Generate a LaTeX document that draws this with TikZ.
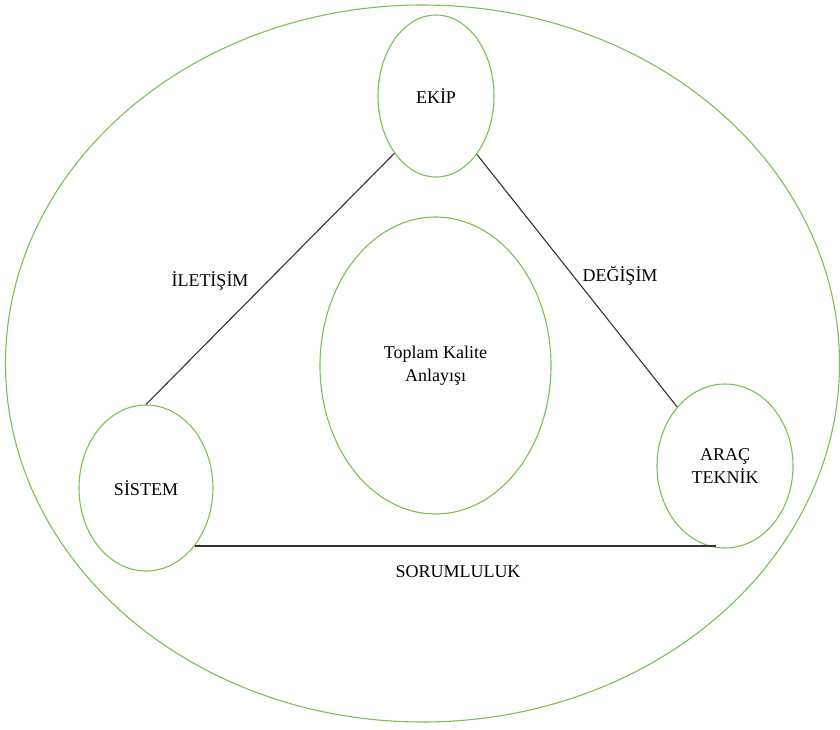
\documentclass[tikz,border=0pt]{standalone}
\usepackage{fontspec}
\setmainfont{Liberation Serif}
\usetikzlibrary{shapes.geometric,positioning}
\definecolor{ovalgreen}{RGB}{125,190,85}

\begin{document}
\begin{tikzpicture}[x=1pt,y=-1pt,
	oval/.style={draw=ovalgreen, line width=1.1pt, ellipse, inner sep=0pt, align=center, font=\fontsize{18}{23}\selectfont},
	link/.style={draw=black!80, line width=1.1pt},
	lbl/.style={font=\fontsize{18}{23}\selectfont, inner sep=0pt}]
	\useasboundingbox (0,0) rectangle (840,729);
	\node[oval, minimum width=834pt, minimum height=717pt] (outer) at (422.5,363.5) {};
	\node[oval, minimum width=116pt, minimum height=162pt] (ekip) at (436,96) {EKİP};
	\node[oval, minimum width=134pt, minimum height=166pt] (sistem) at (146,488) {SİSTEM};
	\node[oval, minimum width=136pt, minimum height=164pt] (arac) at (725,466) {ARAÇ\\TEKNİK};
	\node[oval, minimum width=231pt, minimum height=297pt] (tka) at (435.5,365.5) {Toplam Kalite\\Anlayışı};

	\coordinate (s1) at (sistem.-50);
	\draw[link] (ekip.-126) -- (sistem.north);
	\draw[link] (ekip.-55) -- (arac.129);
	\draw[link] (s1) -- (s1 -| arac.-96);

	\node[lbl] (iletisim) at (210,281) {İLETİŞİM};
	\node[lbl] (degisim) at (620,276) {DEĞİŞİM};
	\node[lbl] (sorumluluk) at (458,572) {SORUMLULUK};
\end{tikzpicture}
\end{document}
